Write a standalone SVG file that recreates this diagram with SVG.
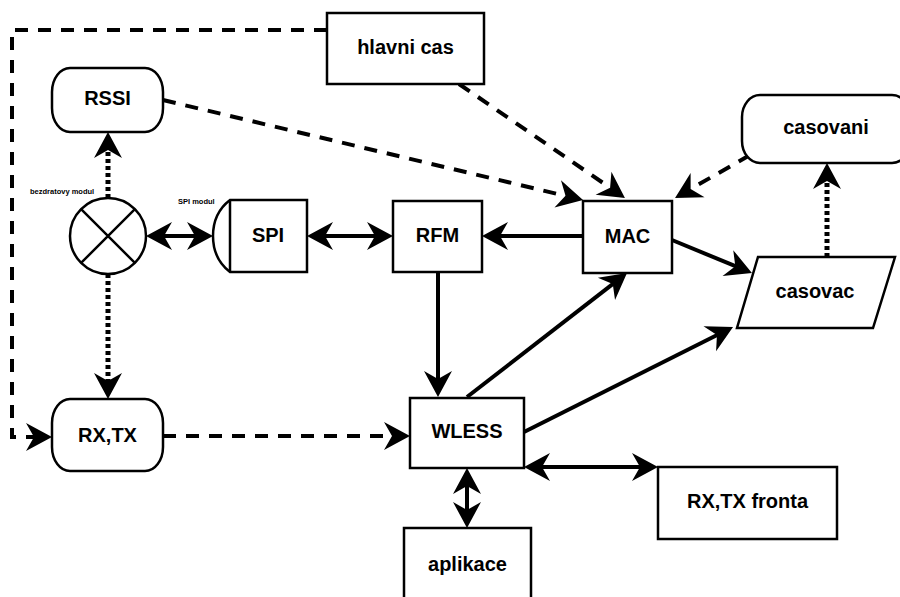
<svg xmlns="http://www.w3.org/2000/svg" width="900" height="597" viewBox="0 0 900 597">
<style>
.box{fill:#fff;stroke:#000;stroke-width:2.5}
.lbl{font-family:"Liberation Sans",Arial,sans-serif;font-weight:bold;font-size:20px;text-anchor:middle;fill:#000}
.small{font-family:"Liberation Sans",Arial,sans-serif;font-weight:bold;font-size:7.5px;fill:#000}
.solid{fill:none;stroke:#000;stroke-width:4}
.dash{fill:none;stroke:#000;stroke-width:4;stroke-dasharray:13,10}
.dot{fill:none;stroke:#000;stroke-width:5;stroke-dasharray:4,3}
</style>
<defs>
<marker id="ah" markerUnits="userSpaceOnUse" viewBox="-30 -15 32 30" markerWidth="32" markerHeight="30" refX="-10" refY="0" orient="auto-start-reverse">
<path d="M0,0 L-26,-14 L-18,0 L-26,14 Z" fill="#000"/>
</marker>
</defs>
<rect width="900" height="597" fill="#fff"/>
<g id="connectors">
<path class="dash" d="M327,30 L12,30 L12,437 L42,437" marker-end="url(#ah)"/>
<path class="dash" d="M459,84 L616.7,192.3" marker-end="url(#ah)"/>
<path class="dash" d="M163,100 L573.3,197.7" marker-end="url(#ah)"/>
<path class="dash" d="M750,155 L683.7,193" marker-end="url(#ah)"/>
<path class="dot" d="M108,198 L108,142" marker-end="url(#ah)"/>
<path class="dot" d="M108,274 L108,389" marker-end="url(#ah)"/>
<path class="solid" d="M156,236 L203,236" marker-start="url(#ah)" marker-end="url(#ah)"/>
<path class="solid" d="M317,236 L383,236" marker-start="url(#ah)" marker-end="url(#ah)"/>
<path class="solid" d="M583,236 L492,236" marker-end="url(#ah)"/>
<path class="solid" d="M672,240 L742.7,269.2" marker-end="url(#ah)"/>
<path class="dot" d="M827,257 L827,173" marker-end="url(#ah)"/>
<path class="solid" d="M438,272 L438,387" marker-end="url(#ah)"/>
<path class="solid" d="M467,397 L619.1,279.1" marker-end="url(#ah)"/>
<path class="solid" d="M524,432 L724.1,331.5" marker-end="url(#ah)"/>
<path class="dash" d="M163,436 L400,436" marker-end="url(#ah)"/>
<path class="solid" d="M534,467 L648,467" marker-start="url(#ah)" marker-end="url(#ah)"/>
<path class="solid" d="M467,478 L467,518" marker-start="url(#ah)" marker-end="url(#ah)"/>
</g>
<g id="hlavni-cas">
<rect class="box" x="327" y="13" width="157" height="71"/>
<text class="lbl" x="405.5" y="54">hlavni cas</text>
</g>
<g id="rssi">
<rect class="box" x="52" y="68" width="111" height="64" rx="18" ry="24"/>
<text class="lbl" x="107.5" y="105">RSSI</text>
</g>
<g id="bezdratovy-modul">
<circle class="box" cx="108" cy="236" r="38"/>
<path d="M81.1,209.1 L134.9,262.9 M134.9,209.1 L81.1,262.9" stroke="#000" stroke-width="2.5"/>
<text class="small" x="30" y="194">bezdratovy modul</text>
</g>
<g id="spi">
<path class="box" d="M307,200 L230,200 Q213,213 213,236 Q213,259 230,272 L307,272 Z"/>
<line x1="230" y1="200" x2="230" y2="272" stroke="#000" stroke-width="2.5"/>
<text class="small" x="178" y="204">SPI modul</text>
<text class="lbl" x="268" y="242">SPI</text>
</g>
<g id="rfm">
<rect class="box" x="393" y="201" width="89" height="71"/>
<text class="lbl" x="437.5" y="242">RFM</text>
</g>
<g id="mac">
<rect class="box" x="583" y="201" width="89" height="72"/>
<text class="lbl" x="627.5" y="243">MAC</text>
</g>
<g id="casovani">
<rect class="box" x="742" y="95" width="168" height="68" rx="18" ry="22"/>
<text class="lbl" x="826" y="134">casovani</text>
</g>
<g id="casovac">
<polygon class="box" points="758,257 895,257 873,328 737,328"/>
<text class="lbl" x="815" y="298">casovac</text>
</g>
<g id="rxtx">
<rect class="box" x="52" y="399" width="111" height="72" rx="18" ry="24"/>
<text class="lbl" x="107.5" y="442">RX,TX</text>
</g>
<g id="wless">
<rect class="box" x="410" y="398" width="114" height="70"/>
<text class="lbl" x="467" y="438">WLESS</text>
</g>
<g id="rxtx-fronta">
<rect class="box" x="658" y="467" width="179" height="72"/>
<text class="lbl" x="747.5" y="508">RX,TX fronta</text>
</g>
<g id="aplikace">
<rect class="box" x="404" y="528" width="127" height="80"/>
<text class="lbl" x="467.5" y="571">aplikace</text>
</g>
</svg>
